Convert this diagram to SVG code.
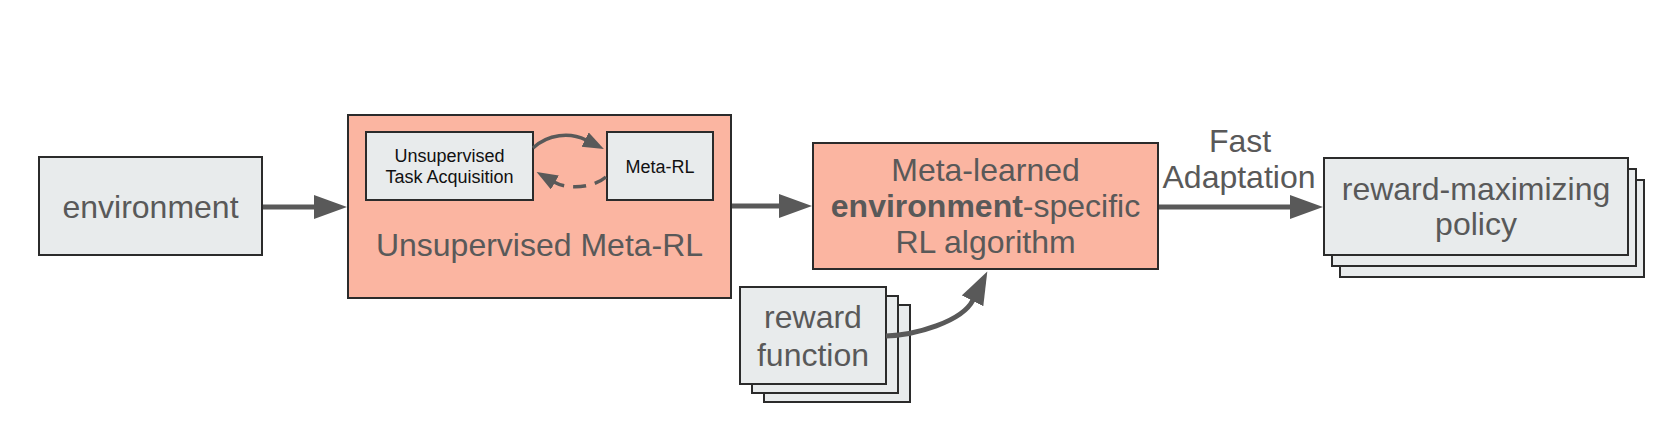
<svg xmlns="http://www.w3.org/2000/svg" width="1670" height="434" viewBox="0 0 1670 434">
  <style>
    .gray { fill: #e8ebec; stroke: #2b2b2b; stroke-width: 2; }
    .pink { fill: #fbb5a1; stroke: #2b2b2b; stroke-width: 2; }
    .big { font-family: "Liberation Sans", Arial, sans-serif; font-size: 32px; fill: #595959; text-anchor: middle; }
    .small { font-family: "Liberation Sans", Arial, sans-serif; font-size: 18px; fill: #111111; text-anchor: middle; }
    .conn { fill: none; stroke: #595959; stroke-width: 5; }
    .thin { fill: none; stroke: #595959; stroke-width: 3.5; }
  </style>
  <defs>
    <marker id="ah" markerUnits="userSpaceOnUse" markerWidth="36" markerHeight="26" refX="1" refY="12" orient="auto">
      <path d="M0,0 L33,12 L0,24 z" fill="#595959"/>
    </marker>
    <marker id="ahs" markerUnits="userSpaceOnUse" markerWidth="24" markerHeight="18" refX="1" refY="8" orient="auto">
      <path d="M0,0 L21,8 L0,16 z" fill="#595959"/>
    </marker>
  </defs>
  <rect width="1670" height="434" fill="#ffffff"/>

  <g id="environment">
    <rect class="gray" x="39" y="157" width="223" height="98"/>
    <text class="big" x="150.5" y="218">environment</text>
  </g>

  <g id="unsupervised-meta-rl">
    <rect class="pink" x="348" y="115" width="383" height="183"/>
    <text class="big" x="539.5" y="256">Unsupervised Meta-RL</text>
  </g>

  <g id="task-acquisition">
    <rect class="gray" x="366" y="132" width="167" height="68"/>
    <text class="small" x="449.5" y="162">Unsupervised</text>
    <text class="small" x="449.5" y="183">Task Acquisition</text>
  </g>

  <g id="meta-rl">
    <rect class="gray" x="607" y="132" width="106" height="68"/>
    <text class="small" x="660" y="173">Meta-RL</text>
  </g>

  <g id="rl-algorithm">
    <rect class="pink" x="813" y="143" width="345" height="126"/>
    <text class="big" x="985.5" y="181">Meta-learned</text>
    <text class="big" x="985.5" y="217"><tspan font-weight="bold">environment</tspan>-specific</text>
    <text class="big" x="985.5" y="253">RL algorithm</text>
  </g>

  <g id="reward-function">
    <rect class="gray" x="764" y="305" width="146" height="97"/>
    <rect class="gray" x="752" y="296" width="146" height="97"/>
    <rect class="gray" x="740" y="287" width="146" height="97"/>
    <text class="big" x="813" y="328">reward</text>
    <text class="big" x="813" y="366">function</text>
  </g>

  <g id="policy">
    <rect class="gray" x="1340" y="180" width="304" height="97"/>
    <rect class="gray" x="1332" y="169" width="304" height="97"/>
    <rect class="gray" x="1324" y="158" width="304" height="97"/>
    <text class="big" x="1476" y="200">reward-maximizing</text>
    <text class="big" x="1476" y="235">policy</text>
  </g>

  <g id="connectors">
    <line class="conn" x1="263" y1="207" x2="315" y2="207" marker-end="url(#ah)"/>
    <line class="conn" x1="732" y1="206" x2="780" y2="206" marker-end="url(#ah)"/>
    <line class="conn" x1="1159" y1="207" x2="1291" y2="207" marker-end="url(#ah)"/>
    <path class="conn" d="M886,336 C915,335 962,322 973,300" marker-end="url(#ah)"/>
    <path class="thin" d="M533,148 C548,134 570,132 586,140" marker-end="url(#ahs)"/>
    <path class="thin" d="M606,177 C593,188 568,190 554,182" stroke-dasharray="13,9" marker-end="url(#ahs)"/>
    <text class="big" x="1240" y="152">Fast</text>
    <text class="big" x="1239" y="188">Adaptation</text>
  </g>
</svg>
